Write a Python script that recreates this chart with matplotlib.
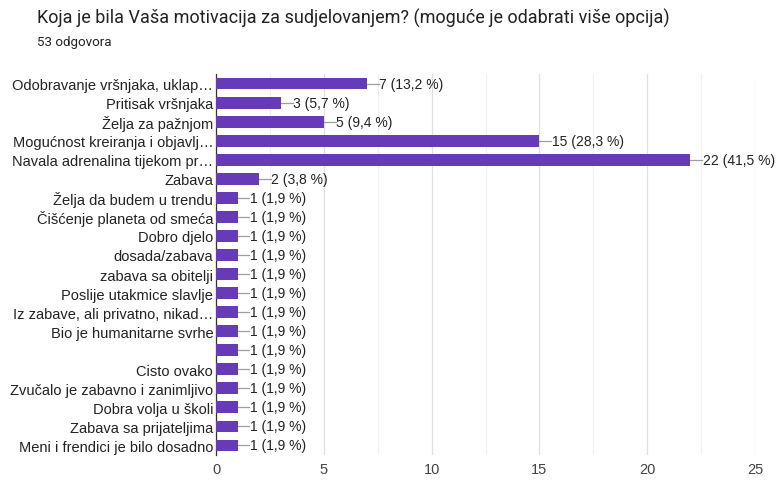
import numpy as np
import matplotlib.pyplot as plt

plt.rcParams['font.family'] = ['Liberation Sans', 'DejaVu Sans']

# Podaci
odgovori = [
    "Odobravanje vršnjaka, uklap…",
    "Pritisak vršnjaka",
    "Želja za pažnjom",
    "Mogućnost kreiranja i objavlj…",
    "Navala adrenalina tijekom pr…",
    "Zabava",
    "Želja da budem u trendu",
    "Čišćenje planeta od smeća",
    "Dobro djelo",
    "dosada/zabava",
    "zabava sa obitelji",
    "Poslije utakmice slavlje",
    "Iz zabave, ali privatno, nikad…",
    "Bio je humanitarne svrhe",
    "",
    "Cisto ovako",
    "Zvučalo je zabavno i zanimljivo",
    "Dobra volja u školi",
    "Zabava sa prijateljima",
    "Meni i frendici je bilo dosadno",
]
broj = [7, 3, 5, 15, 22, 2, 1, 1, 1, 1, 1, 1, 1, 1, 1, 1, 1, 1, 1, 1]
postotak = ["13,2", "5,7", "9,4", "28,3", "41,5", "3,8"] + ["1,9"] * 14

fig = plt.figure(figsize=(7.77, 4.81), dpi=100)
ax = fig.add_axes([0.278, 0.052, 0.6937, 0.792])

y = np.arange(len(odgovori))
ax.barh(y, broj, height=0.62, color="#673ab7", zorder=3)

# linija do oznake + tekst
for yi, v, p in zip(y, broj, postotak):
    ax.plot([v, v + 0.55], [yi, yi], color="#9e9e9e", lw=0.9, zorder=2)
    ax.text(v + 0.57, yi, f"{v} ({p} %)", va="center", ha="left",
            fontsize=10, color="#222222")

ax.set_xlim(0, 25)
ax.set_ylim(len(odgovori) - 0.5, -0.5)
ax.set_yticks(y)
ax.set_yticklabels(odgovori, fontsize=10.5, color="#222222")
ax.set_xticks([0, 5, 10, 15, 20, 25])
ax.set_xticks(np.arange(2.5, 25, 5), minor=True)
ax.tick_params(axis="x", which="both", length=0, labelsize=10.5,
               labelcolor="#444444", pad=5)
ax.tick_params(axis="y", length=0, pad=2)

ax.grid(axis="x", which="major", color="#e0e0e0", lw=0.9, zorder=0)
ax.grid(axis="x", which="minor", color="#f0f0f0", lw=0.9, zorder=0)
for s in ["top", "right", "bottom"]:
    ax.spines[s].set_visible(False)
ax.spines["left"].set_color("#333333")
ax.spines["left"].set_linewidth(0.9)

fig.text(0.048, 0.962, "Koja je bila Vaša motivacija za sudjelovanjem? (moguće je odabrati više opcija)",
         fontsize=13, color="#202124", va="center", family="Roboto")
fig.text(0.048, 0.912, "53 odgovora", fontsize=9.6, color="#202124", va="center",
         family="Roboto")

fig.savefig("out.png", dpi=100)
